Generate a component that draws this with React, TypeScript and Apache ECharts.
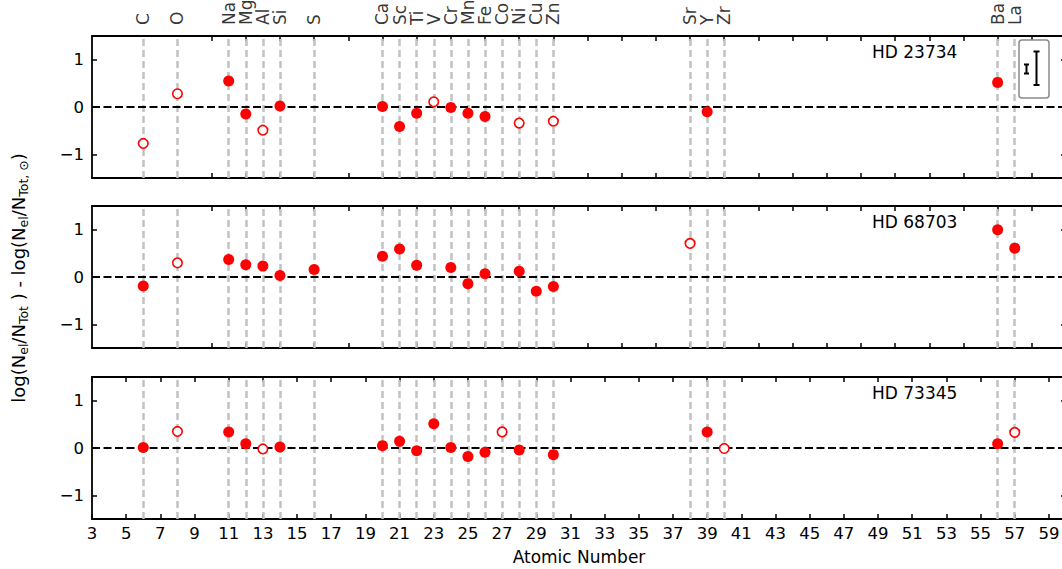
import React, { useEffect, useRef } from "react";
import * as echarts from "echarts";

const elements = ["C", "O", "Na", "Mg", "Al", "Si", "S", "Ca", "Sc", "Ti", "V", "Cr", "Mn", "Fe", "Co", "Ni", "Cu", "Zn", "Sr", "Y", "Zr", "Ba", "La"];
const atomicNumbers = [6, 8, 11, 12, 13, 14, 16, 20, 21, 22, 23, 24, 25, 26, 27, 28, 29, 30, 38, 39, 40, 56, 57];

const starNames = ["HD 23734", "HD 68703", "HD 73345"];

const hd23734Filled = [[11, 0.55], [12, -0.15], [14, 0.02], [20, 0.01], [21, -0.41], [22, -0.13], [24, -0.01], [25, -0.13], [26, -0.2], [39, -0.1], [56, 0.52]];
const hd23734Open = [[6, -0.77], [8, 0.28], [13, -0.49], [23, 0.11], [28, -0.34], [30, -0.3]];

const hd68703Filled = [[6, -0.19], [11, 0.37], [12, 0.26], [13, 0.23], [14, 0.03], [16, 0.16], [20, 0.44], [21, 0.59], [22, 0.25], [24, 0.2], [25, -0.14], [26, 0.07], [28, 0.12], [29, -0.3], [30, -0.2], [56, 1.0], [57, 0.61]];
const hd68703Open = [[8, 0.3], [38, 0.71]];

const hd73345Filled = [[6, 0.01], [11, 0.34], [12, 0.09], [14, 0.02], [20, 0.05], [21, 0.14], [22, -0.06], [23, 0.51], [24, 0.01], [25, -0.18], [26, -0.09], [28, -0.04], [30, -0.14], [39, 0.34], [56, 0.09]];
const hd73345Open = [[8, 0.35], [13, -0.02], [27, 0.34], [40, -0.01], [57, 0.33]];

const yTicks = [-1, 0, 1];
const xTicksEven = [10, 12, 14, 16, 18, 20, 22, 24, 26, 28, 30, 32, 34, 36, 38, 40, 42, 44, 46, 48, 50, 52, 54, 56, 58];
const xTicksOdd = [3, 5, 7, 9, 11, 13, 15, 17, 19, 21, 23, 25, 27, 29, 31, 33, 35, 37, 39, 41, 43, 45, 47, 49, 51, 53, 55, 57, 59];

const FONT = "DejaVu Sans";
const RED = "#ff0000";

export default function App() {
  const ref = useRef<HTMLDivElement>(null);
  useEffect(() => {
    if (!ref.current) return;
    const chart = echarts.init(ref.current, null, { renderer: "svg" });
    const tops = [36, 206, 377];
    const panelH = 142;
    const filledSets = [hd23734Filled, hd68703Filled, hd73345Filled];
    const openSets = [hd23734Open, hd68703Open, hd73345Open];

    const grid = tops.map((t) => ({ left: 92, top: t, width: 974, height: panelH }));
    const xAxis: any[] = [];
    const yAxis: any[] = [];
    const series: any[] = [];
    const axisLine = { show: true, onZero: false, lineStyle: { color: "#000", width: 1.8 } };

    tops.forEach((_, i) => {
      const bottomPanel = i === 2;
      const ticks = bottomPanel ? xTicksOdd : xTicksEven;
      xAxis.push({
        type: "value", gridIndex: i, min: 3, max: 60, position: "bottom",
        axisLine, splitLine: { show: false },
        axisTick: { show: true, inside: true, length: 5, customValues: ticks, lineStyle: { color: "#000", width: 1.5 } },
        axisLabel: bottomPanel
          ? { show: true, customValues: xTicksOdd, fontSize: 16.5, fontFamily: FONT, color: "#000", margin: 6 }
          : { show: false },
        name: bottomPanel ? "Atomic Number" : "",
        nameLocation: "middle", nameGap: 29,
        nameTextStyle: { fontSize: 17, fontFamily: FONT, color: "#000" },
      });
      xAxis.push({
        type: "value", gridIndex: i, min: 3, max: 60, position: "top",
        axisLine, splitLine: { show: false },
        axisTick: { show: true, inside: true, length: 5, customValues: ticks, lineStyle: { color: "#000", width: 1.5 } },
        axisLabel: { show: false },
      });
      yAxis.push({
        type: "value", gridIndex: i, min: -1.5, max: 1.5, position: "left",
        axisLine, splitLine: { show: false },
        axisTick: { show: true, inside: true, length: 5, customValues: yTicks, lineStyle: { color: "#000", width: 1.5 } },
        axisLabel: {
          show: true, customValues: yTicks, fontSize: 16.5, fontFamily: FONT, color: "#000", margin: 8,
          formatter: (v: number) => String(v).replace("-", "\u2212"),
        },
      });
      yAxis.push({
        type: "value", gridIndex: i, min: -1.5, max: 1.5, position: "right",
        axisLine, splitLine: { show: false },
        axisTick: { show: true, inside: true, length: 5, customValues: yTicks, lineStyle: { color: "#000", width: 1.5 } },
        axisLabel: { show: false },
      });

      // vertical element guide lines
      series.push({
        type: "scatter", xAxisIndex: 2 * i, yAxisIndex: 2 * i, data: [], z: 1, silent: true,
        markLine: {
          silent: true, symbol: "none", animation: false, label: { show: false },
          emphasis: { disabled: true },
          lineStyle: { color: "#c2c2c2", width: 2.5, type: [7, 4], opacity: 1 },
          data: atomicNumbers.map((z) => ({ xAxis: z })),
        },
      });
      // zero line
      series.push({
        type: "scatter", xAxisIndex: 2 * i, yAxisIndex: 2 * i, data: [], z: 2, silent: true,
        markLine: {
          silent: true, symbol: "none", animation: false, label: { show: false },
          emphasis: { disabled: true },
          lineStyle: { color: "#000", width: 2.2, type: [8, 3.5], opacity: 1 },
          data: [{ yAxis: 0 }],
        },
      });
      series.push({
        type: "scatter", xAxisIndex: 2 * i, yAxisIndex: 2 * i, z: 5,
        data: filledSets[i], symbol: "circle", symbolSize: 11,
        itemStyle: { color: RED, opacity: 1 },
      });
      series.push({
        type: "scatter", xAxisIndex: 2 * i, yAxisIndex: 2 * i, z: 5,
        data: openSets[i], symbol: "circle", symbolSize: 9.5,
        itemStyle: { color: "#fff", borderColor: RED, borderWidth: 1.6, opacity: 1 },
      });
    });

    // element labels above the top panel
    series.push({
      type: "scatter", xAxisIndex: 0, yAxisIndex: 0, z: 6, silent: true, clip: false,
      symbolSize: 0,
      data: atomicNumbers.map((z, i) => ({ value: [z, 1.5], name: elements[i] })),
      label: {
        show: true, position: "top", distance: 11, rotate: 90, align: "left", verticalAlign: "middle",
        formatter: "{b}", fontSize: 17, fontFamily: FONT, color: "#000",
      },
    });

    const graphic: any[] = [];
    starNames.forEach((n, i) => {
      graphic.push({
        type: "text", x: 872, y: tops[i] + 16, z: 10,
        style: { text: n, fontSize: 17, fontFamily: FONT, fill: "#000", verticalAlign: "middle", align: "left" },
      });
    });
    graphic.push({
      type: "text", x: 18, y: 278, rotation: Math.PI / 2, z: 10,
      style: {
        text: "{n|log(N}{s|el}{n|/N}{s|Tot}{n| ) - log(N}{s|el}{n|/N}{s|Tot, \u2299}{n|)}",
        align: "center", verticalAlign: "middle",
        rich: {
          n: { fontSize: 18, fontFamily: FONT, fill: "#000", lineHeight: 24 },
          s: { fontSize: 12.5, fontFamily: FONT, fill: "#000", lineHeight: 12, verticalAlign: "bottom" },
        },
      },
    });
    // error-bar legend box
    graphic.push({
      type: "rect", z: 20, shape: { x: 1019, y: 40, width: 30, height: 58, r: 3 },
      style: { fill: "#fff", stroke: "#8a8a8a", lineWidth: 1.5 },
    });
    const bars = [
      { x: 1026.5, y1: 64.5, y2: 73.5, cap: 2.5 },
      { x: 1036.5, y1: 51.5, y2: 85, cap: 3 },
    ];
    bars.forEach((b) => {
      graphic.push({ type: "line", z: 21, shape: { x1: b.x, y1: b.y1, x2: b.x, y2: b.y2 }, style: { stroke: "#000", lineWidth: 2 } });
      graphic.push({ type: "line", z: 21, shape: { x1: b.x - b.cap, y1: b.y1, x2: b.x + b.cap, y2: b.y1 }, style: { stroke: "#000", lineWidth: 2 } });
      graphic.push({ type: "line", z: 21, shape: { x1: b.x - b.cap, y1: b.y2, x2: b.x + b.cap, y2: b.y2 }, style: { stroke: "#000", lineWidth: 2 } });
    });

    chart.setOption({
      animation: false,
      backgroundColor: "#fff",
      grid,
      xAxis,
      yAxis,
      series,
      graphic,
    });
    return () => chart.dispose();
  }, []);

  return (
    <div style={{ position: "fixed", left: 0, top: 0, width: 1062, height: 569, overflow: "hidden", background: "#fff" }}>
      <div ref={ref} style={{ width: 1075, height: 569 }} />
    </div>
  );
}
